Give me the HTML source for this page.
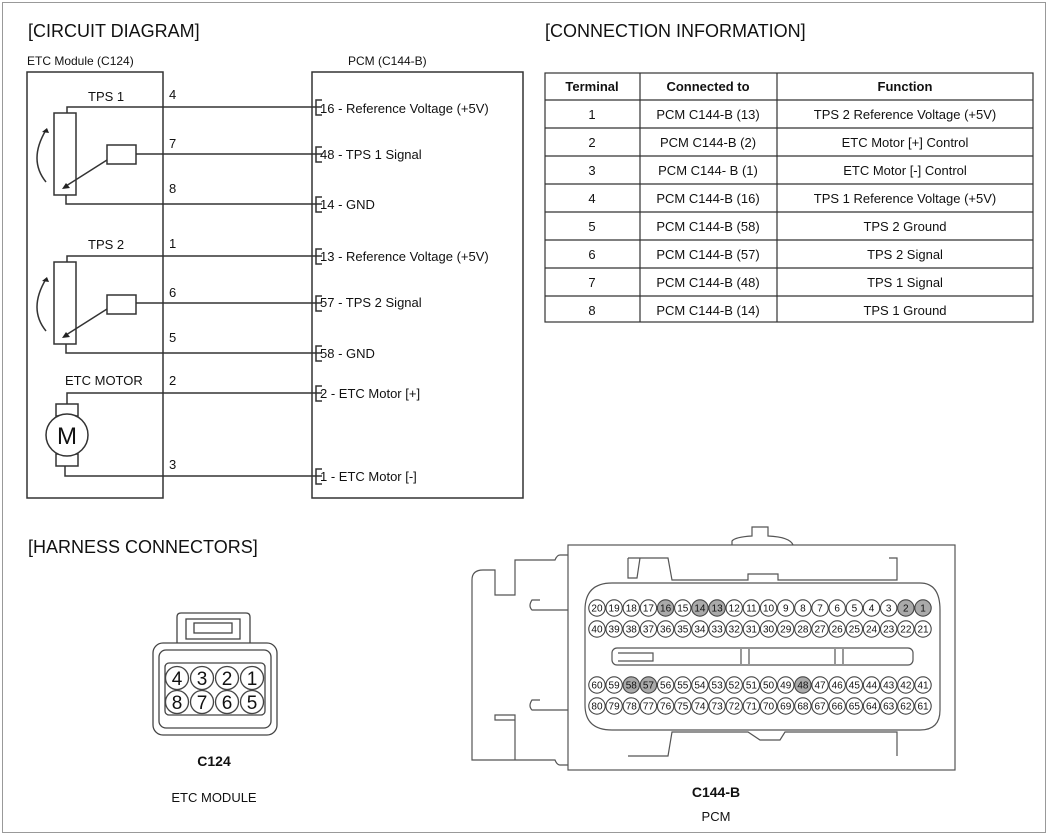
<!DOCTYPE html>
<html><head><meta charset="utf-8"><style>
html,body{margin:0;padding:0;background:#fff}
svg{display:block}
text{font-family:"Liberation Sans",Arial,sans-serif;fill:#111}
</style></head><body>
<svg width="1050" height="837" viewBox="0 0 1050 837" xmlns="http://www.w3.org/2000/svg">
<rect x="2.5" y="2.5" width="1043" height="830" fill="none" stroke="#999" stroke-width="1"/>
<text x="28" y="37" font-size="18">[CIRCUIT DIAGRAM]</text>
<text x="545" y="37" font-size="18">[CONNECTION INFORMATION]</text>
<text x="28" y="553" font-size="18">[HARNESS CONNECTORS]</text>

<g stroke="#333" stroke-width="1.5" fill="none">
<rect x="27" y="72" width="136" height="426"/>
<rect x="312" y="72" width="211" height="426"/>
<path d="M67 113 V107 H322 M136 154 H322 M66 195 V204 H322"/>
<path d="M67 262 V256 H322 M136 303 H322 M66 344 V353 H322"/>
<path d="M67 404 V393 H322 M65 465 V476 H322"/>
<rect x="54" y="113" width="22" height="82" fill="#fff"/>
<rect x="107" y="145" width="29" height="19" fill="#fff"/>
<path d="M107 160 L66 186"/>
<path d="M46 182 Q28 160 46 130"/>
<rect x="54" y="262" width="22" height="82" fill="#fff"/>
<rect x="107" y="295" width="29" height="19" fill="#fff"/>
<path d="M107 309 L66 335"/>
<path d="M46 331 Q28 309 46 279"/>
<rect x="56" y="404" width="22" height="12" fill="#fff"/>
<rect x="56" y="454" width="22" height="12" fill="#fff"/>
<circle cx="67" cy="435" r="21" fill="#fff"/>
<path d="M322 100 H316 V115 H322 M322 147 H316 V162 H322 M322 197 H316 V212 H322 M322 249 H316 V264 H322 M322 296 H316 V311 H322 M322 346 H316 V361 H322 M322 386 H316 V401 H322 M322 469 H316 V484 H322"/>
</g>
<g fill="#222">
<path d="M62 189 l8 -1 l-4 -5z"/>
<path d="M62 338 l8 -1 l-4 -5z"/>
<path d="M47 128 l-5 4 l7 1z"/>
<path d="M47 277 l-5 4 l7 1z"/>
</g>
<text x="27" y="65" font-size="12">ETC Module (C124)</text>
<text x="348" y="65" font-size="12">PCM (C144-B)</text>
<g font-size="13">
<text x="88" y="101">TPS 1</text>
<text x="88" y="249">TPS 2</text>
<text x="65" y="385">ETC MOTOR</text>
<text x="169" y="99">4</text><text x="169" y="148">7</text><text x="169" y="193">8</text>
<text x="169" y="248">1</text><text x="169" y="297">6</text><text x="169" y="342">5</text>
<text x="169" y="385">2</text><text x="169" y="469">3</text>
<text x="320" y="113">16 - Reference Voltage (+5V)</text>
<text x="320" y="159">48 - TPS 1 Signal</text>
<text x="320" y="209">14 - GND</text>
<text x="320" y="261">13 - Reference Voltage (+5V)</text>
<text x="320" y="307">57 - TPS 2 Signal</text>
<text x="320" y="358">58 - GND</text>
<text x="320" y="398">2 - ETC Motor [+]</text>
<text x="320" y="481">1 - ETC Motor [-]</text>
</g>
<text x="67" y="444" font-size="24" text-anchor="middle">M</text>

<g stroke="#333" stroke-width="1.2" fill="none">
<rect x="545" y="73" width="488" height="249"/>
<path d="M640 73 V322 M777 73 V322"/>
<path d="M545 100 H1033 M545 128 H1033 M545 156 H1033 M545 184 H1033 M545 212 H1033 M545 240 H1033 M545 268 H1033 M545 296 H1033"/>
</g>
<g font-size="13" text-anchor="middle">
<text x="592" y="91" font-weight="bold">Terminal</text>
<text x="708" y="91" font-weight="bold">Connected to</text>
<text x="905" y="91" font-weight="bold">Function</text>
<text x="592" y="119">1</text><text x="708" y="119">PCM C144-B (13)</text><text x="905" y="119">TPS 2 Reference Voltage (+5V)</text>
<text x="592" y="147">2</text><text x="708" y="147">PCM C144-B (2)</text><text x="905" y="147">ETC Motor [+] Control</text>
<text x="592" y="175">3</text><text x="708" y="175">PCM C144- B (1)</text><text x="905" y="175">ETC Motor [-] Control</text>
<text x="592" y="203">4</text><text x="708" y="203">PCM C144-B  (16)</text><text x="905" y="203">TPS 1 Reference Voltage (+5V)</text>
<text x="592" y="231">5</text><text x="708" y="231">PCM C144-B  (58)</text><text x="905" y="231">TPS 2 Ground</text>
<text x="592" y="259">6</text><text x="708" y="259">PCM C144-B  (57)</text><text x="905" y="259">TPS 2 Signal</text>
<text x="592" y="287">7</text><text x="708" y="287">PCM C144-B  (48)</text><text x="905" y="287">TPS 1 Signal</text>
<text x="592" y="315">8</text><text x="708" y="315">PCM C144-B  (14)</text><text x="905" y="315">TPS 1 Ground</text>
</g>

<g stroke="#444" stroke-width="1.3" fill="#fff">
<path d="M177 643 V617 Q177 613 181 613 H246 Q250 613 250 617 V643"/>
<rect x="186" y="619" width="54" height="20"/>
<rect x="194" y="623" width="38" height="10"/>
<rect x="153" y="643" width="124" height="92" rx="10"/>
<rect x="159" y="650" width="112" height="78" rx="7"/>
<rect x="165" y="663" width="100" height="52" rx="4"/>
<circle cx="177" cy="678" r="11.5"/><circle cx="202" cy="678" r="11.5"/><circle cx="227" cy="678" r="11.5"/><circle cx="252" cy="678" r="11.5"/>
<circle cx="177" cy="702" r="11.5"/><circle cx="202" cy="702" r="11.5"/><circle cx="227" cy="702" r="11.5"/><circle cx="252" cy="702" r="11.5"/>
</g>
<g font-size="19" text-anchor="middle">
<text x="177" y="685">4</text><text x="202" y="685">3</text><text x="227" y="685">2</text><text x="252" y="685">1</text>
<text x="177" y="709">8</text><text x="202" y="709">7</text><text x="227" y="709">6</text><text x="252" y="709">5</text>
</g>
<text x="214" y="766" font-size="14" font-weight="bold" text-anchor="middle">C124</text>
<text x="214" y="802" font-size="13" text-anchor="middle">ETC MODULE</text>

<g stroke="#555" stroke-width="1.2" fill="#fff">
<path d="M732 545 V541 Q735 537 752 536 V527 H768 V536 Q790 537 793 545"/>
<path d="M568 555 H560 Q557 555 555 560 H515 V595 H495 V570 H483 Q472 570 472 580 V760 H515 V720 H495 V715 H515 V760 H555 Q557 765 560 765 H568"/>
<path d="M540 600 H532 Q528 606 532 610 H568 M540 700 H532 Q528 706 532 710 H568"/>
<rect x="568" y="545" width="387" height="225"/>
<path d="M628 558 H668 L672 580 H748 V574 H778 V580 H897 V558 H889 M628 558 V578 H637 L640 558"/>
<path d="M628 756 H668 L672 732 H748 L760 740 H780 L785 732 H897 V756"/>
<path d="M612 583 H920 Q940 583 940 610 V710 Q940 730 920 730 H612 Q585 730 585 705 V610 Q585 583 612 583 Z"/>
<rect x="612" y="648" width="301" height="17" rx="5"/>
<path d="M741 649 V664 M749 649 V664 M835 649 V664 M843 649 V664 M618 653 H653 V661 H618"/>
</g>
<g stroke="#444" stroke-width="1.1" font-size="10" text-anchor="middle" id="pins"></g>
<text x="716" y="797" font-size="14" font-weight="bold" text-anchor="middle">C144-B</text>
<text x="716" y="821" font-size="13" text-anchor="middle">PCM</text>
<script>
(function(){
var g=document.getElementById('pins'),ns='http://www.w3.org/2000/svg';
var shade={16:1,14:1,13:1,2:1,1:1,58:1,57:1,48:1};
var rows=[[1,608],[21,629],[41,685],[61,706]];
rows.forEach(function(r){
 for(var i=0;i<20;i++){
  var n=r[0]+i, x=923-i*17.16, y=r[1];
  var c=document.createElementNS(ns,'circle');
  c.setAttribute('cx',x);c.setAttribute('cy',y);c.setAttribute('r',8.2);
  c.setAttribute('fill',shade[n]?'#aaa':'#fff');
  g.appendChild(c);
  var t=document.createElementNS(ns,'text');
  t.setAttribute('x',x);t.setAttribute('y',y+3.5);t.setAttribute('stroke','none');
  t.textContent=n;g.appendChild(t);
 }
});
})();
</script>
</svg>
</body></html>
